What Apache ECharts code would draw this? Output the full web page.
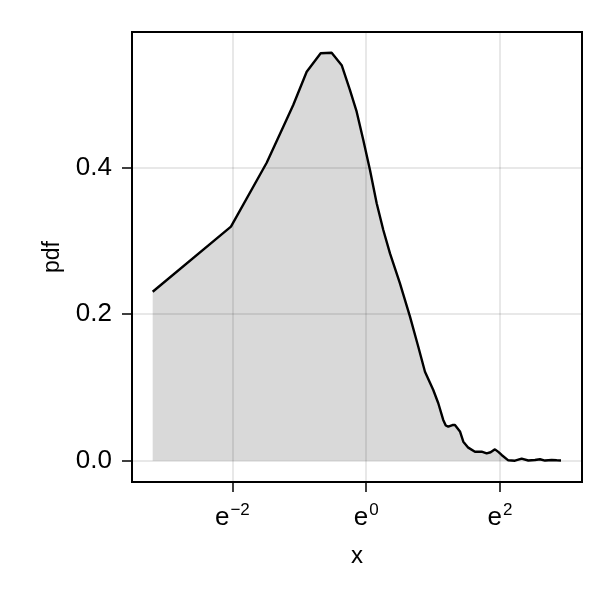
<!DOCTYPE html>
<html>
<head>
<meta charset="utf-8">
<script src="https://cdn.jsdelivr.net/npm/echarts@6/dist/echarts.min.js"></script>
<style>
html,body{margin:0;padding:0;background:#fff;}
#chart{width:614px;height:602px;}
</style>
</head>
<body>
<div id="chart"></div>
<script>
// natural log of x (x axis is drawn on a log scale, base e)
const lnX = [-3.191, -2.021, -1.487, -1.239, -1.090, -0.889, -0.680, -0.516, -0.366, -0.242,
  -0.142, -0.043, 0.057, 0.157, 0.256, 0.356, 0.505, 0.655, 0.779, 0.879,
  1.003, 1.078, 1.152, 1.190, 1.227, 1.290, 1.327, 1.402, 1.452, 1.526,
  1.626, 1.726, 1.801, 1.860, 1.925, 1.975, 2.025, 2.124, 2.224, 2.324,
  2.423, 2.523, 2.598, 2.673, 2.773, 2.848, 2.912];
const pdf = [0.2307, 0.3195, 0.4068, 0.456, 0.4856, 0.531, 0.5562, 0.557, 0.540, 0.506,
  0.4765, 0.4378, 0.397, 0.3514, 0.315, 0.283, 0.242, 0.1966, 0.1556, 0.1215,
  0.0965, 0.0784, 0.0556, 0.048, 0.0464, 0.0487, 0.0487, 0.040, 0.026, 0.0178,
  0.0123, 0.0123, 0.010, 0.0115, 0.0155, 0.012, 0.0078, 0.0005, 0.0, 0.0027,
  0.0003, 0.001, 0.002, 0.0002, 0.001, 0.0005, 0.0003];
const xTickExps = [-2, 0, 2];
const yTicks = [0, 0.2, 0.4];
const xName = 'x';
const yName = 'pdf';

const FONT = 'Liberation Sans';
const chart = echarts.init(document.getElementById('chart'), null, {renderer: 'canvas'});
const data = lnX.map((v, i) => [v, pdf[i]]);
chart.setOption({
  animation: false,
  backgroundColor: '#fff',
  grid: {left: 132, right: 32, top: 32, bottom: 120, show: true, borderColor: '#000', borderWidth: 2, backgroundColor: 'transparent'},
  xAxis: {
    type: 'value', min: -3.50, max: 3.226,
    name: xName, nameLocation: 'middle', nameGap: 62,
    nameTextStyle: {fontFamily: FONT, fontSize: 24, color: '#000'},
    axisLine: {show: false, onZero: false},
    axisTick: {show: true, length: 10, inside: false, customValues: xTickExps, lineStyle: {color: '#000', width: 1.5}},
    axisLabel: {
      customValues: xTickExps, margin: 20, color: '#000',
      formatter: v => '{b|e}{s|' + (v < 0 ? '\u2212' : '') + Math.abs(v) + '}',
      rich: {
        b: {fontFamily: FONT, fontSize: 26, color: '#000', verticalAlign: 'bottom'},
        s: {fontFamily: FONT, fontSize: 17, color: '#000', verticalAlign: 'bottom', padding: [0, 0, 12, 1]}
      }
    },
    splitLine: {show: true, lineStyle: {color: 'rgba(0,0,0,0.12)', width: 1.5}}
  },
  yAxis: {
    type: 'value', min: -0.0291, max: 0.5853,
    name: yName, nameLocation: 'middle', nameGap: 68, nameRotate: 90,
    nameTextStyle: {fontFamily: FONT, fontSize: 23, color: '#000'},
    axisLine: {show: false, onZero: false},
    axisTick: {show: true, length: 10, inside: false, customValues: yTicks, lineStyle: {color: '#000', width: 1.5}},
    axisLabel: {
      customValues: yTicks, margin: 20, color: '#000', fontFamily: FONT, fontSize: 26,
      formatter: v => v.toFixed(1)
    },
    splitLine: {show: true, lineStyle: {color: 'rgba(0,0,0,0.12)', width: 1.5}}
  },
  series: [{
    type: 'line', data: data, showSymbol: false, smooth: false,
    lineStyle: {color: '#000', width: 2.4},
    areaStyle: {color: 'rgba(0,0,0,0.15)', opacity: 1, origin: 0},
    z: 3
  }]
});
</script>
</body>
</html>
